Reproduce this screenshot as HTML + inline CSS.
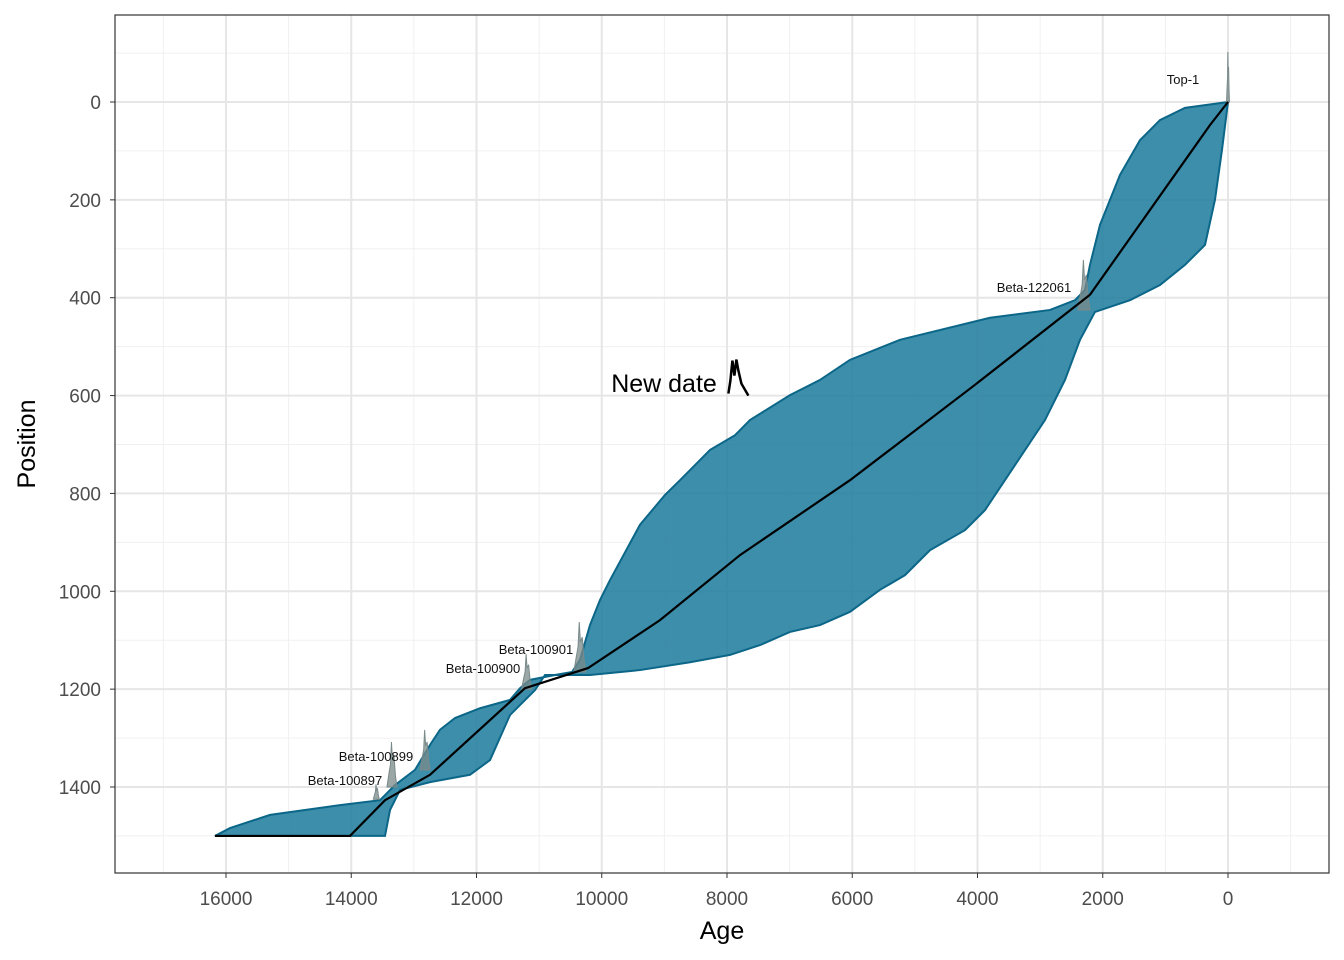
<!DOCTYPE html>
<html><head><meta charset="utf-8"><style>
html,body{margin:0;padding:0;background:#fff;}
svg{display:block;font-family:"Liberation Sans",sans-serif;}
</style></head><body>
<svg id="chart" width="1344" height="960" xmlns="http://www.w3.org/2000/svg"></svg>
<script>
const xTicks=[16000,14000,12000,10000,8000,6000,4000,2000,0];
const xMinor=[17000,15000,13000,11000,9000,7000,5000,3000,1000,-1000];
const yTicks=[0,200,400,600,800,1000,1200,1400];
const yMinor=[-100,100,300,500,700,900,1100,1300,1500];
const oldAges=[0,687,1086,1405,1725,2044,2204,2284,2443,2842,3800,5238,6036,6515,6994,7633,7872,8271,8750,8990,9389,9868,10028,10188,10347,10475,10747,11146,11305,11465,11944,12343,12583,12742,12982,13301,13541,14179,15297,15936,16176];
const oldDepths=[0,12,37,78,149,251,333,384,405,425,441,486,527,568,599,650,681,711,773,803,864,977,1018,1069,1140,1165,1171,1181,1198,1222,1239,1259,1283,1314,1365,1396,1427,1437,1457,1484,1500];
const youngAges=[0,96,208,367,687,1086,1565,2124,2363,2603,2922,3401,3880,4199,4758,5158,5557,6036,6515,6994,7473,7952,8590,9389,10188,10906,11066,11465,11784,12104,12742,13221,13381,13461];
const youngDepths=[0,98,200,292,333,374,405,429,486,568,650,742,834,875,916,967,997,1042,1069,1083,1110,1130,1145,1161,1171,1171,1202,1253,1345,1375,1390,1406,1447,1500];
const medAges=[0,287,2204,4040,6036,7792,9070,10220,11226,12742,13461,14020,16176];
const medDepths=[0,47,394,578,773,926,1059,1157,1198,1375,1427,1500,1500];
const dateNames=["Top-1","Beta-122061","Beta-100901","Beta-100900","Beta-100899","Beta-100897","Beta-extra"];
const dateAges=[0,2300,10350,11200,13350,13600,12820];
const dateDepths=[0,425,1165,1200,1400,1425,1365];
const dateHeights=[50,50,50,35,45,15,40];
const dateWidths=[1.5,6,6,5,5,3,5];
// label layout (pixel positions)
const labelX=[1183,1034,536,483,376,345,-100];
const labelY=[84,292,654,673,761,785,-100];

const X=v=>1228-v*0.062625, Y=v=>102+v*0.48929;
const svg=document.getElementById('chart');
const NS="http://www.w3.org/2000/svg";
function mk(tag,attrs,parent){const e=document.createElementNS(NS,tag);for(const k in attrs)e.setAttribute(k,attrs[k]);(parent||svg).appendChild(e);return e;}
const L=115,R=1329,T=15,B=873;
xMinor.forEach(v=>{const l=mk('line',{x1:X(v),x2:X(v),y1:T,y2:B,stroke:'#f0f0f0','stroke-width':1});
});
yMinor.forEach(v=>{const l=mk('line',{x1:L,x2:R,y1:Y(v),y2:Y(v),stroke:'#f0f0f0','stroke-width':1});
});
xTicks.forEach(v=>{const l=mk('line',{x1:X(v),x2:X(v),y1:T,y2:B,stroke:'#e6e6e6','stroke-width':2});

const t=mk('line',{x1:X(v),x2:X(v),y1:B,y2:B+5,stroke:'#333','stroke-width':1});

const tx=mk('text',{x:X(v),y:905,'text-anchor':'middle','font-size':19,fill:'#4d4d4d'});tx.textContent=v;
});
yTicks.forEach(v=>{const l=mk('line',{x1:L,x2:R,y1:Y(v),y2:Y(v),stroke:'#e6e6e6','stroke-width':2});

const t=mk('line',{x1:L-5,x2:L,y1:Y(v),y2:Y(v),stroke:'#333','stroke-width':1});

const tx=mk('text',{x:101,y:Y(v)+7,'text-anchor':'end','font-size':19,fill:'#4d4d4d'});tx.textContent=v;
});
let pts=oldAges.map((a,i)=>X(a)+','+Y(oldDepths[i]));
for(let i=youngAges.length-1;i>=0;i--)pts.push(X(youngAges[i])+','+Y(youngDepths[i]));
const env=mk('polygon',{points:pts.join(' '),fill:'#1b7a9c','fill-opacity':0.85,stroke:'#0b6688','stroke-width':2});

dateAges.forEach((a,i)=>{const cx=X(a),by=Y(dateDepths[i]),h=dateHeights[i],w=dateWidths[i];
const d=`M${cx-w},${by} L${cx-w*0.6},${by-h*0.3} L${cx-w*0.3},${by-h*0.5} L${cx-w*0.1},${by-h} L${cx+w*0.1},${by-h*0.6} L${cx+w*0.4},${by-h*0.7} L${cx+w*0.7},${by-h*0.25} L${cx+w},${by} Z`;
const p=mk('path',{d:d,fill:'#7a8a8a','fill-opacity':0.75,stroke:'#7a8a8a','stroke-width':1});

if(dateNames[i]!=="Beta-extra"){const t=mk('text',{x:labelX[i],y:labelY[i],'text-anchor':'middle','font-size':13,fill:'#111'});
t.textContent=dateNames[i];}});
const med=mk('polyline',{points:medAges.map((a,i)=>X(a)+','+Y(medDepths[i])).join(' '),fill:'none',stroke:'#000','stroke-width':2.2});

const nx=X(7850),ny=Y(600);
const nd=mk('path',{d:`M${nx-8},${ny-2} L${nx-6},${ny-15} L${nx-4},${ny-35} L${nx-2},${ny-20} L${nx},${ny-36} L${nx+2},${ny-25} L${nx+5},${ny-12} L${nx+12},${ny}`,fill:'none',stroke:'#000','stroke-width':2.5});

const nt=mk('text',{x:664,y:392,'text-anchor':'middle','font-size':25,fill:'#000'});nt.textContent='New date';

const fr=mk('rect',{x:L,y:T,width:R-L,height:B-T,fill:'none',stroke:'#333','stroke-width':1.2});

const xt=mk('text',{x:722,y:939,'text-anchor':'middle','font-size':25,fill:'#000'});xt.textContent='Age';

const yt=mk('text',{x:0,y:0,'text-anchor':'middle','font-size':25,fill:'#000',transform:'translate(35,444) rotate(-90)'});yt.textContent='Position';

</script>
</body></html>
